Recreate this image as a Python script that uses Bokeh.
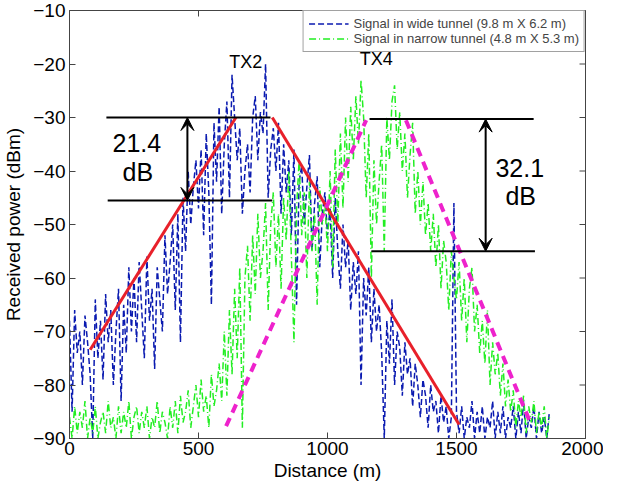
import math
from bokeh.plotting import figure
from bokeh.models import (ColumnDataSource, Range1d, Arrow, VeeHead,
                          Legend, LegendItem, FixedTicker)
from bokeh.embed import file_html
from bokeh.resources import INLINE
from bokeh.core.properties import value

# ---------------- data ----------------
distance_m = list(range(0, 1870, 10))

wide_dbm = [
    -68, -85, -66, -74, -70, -80, -67, -72, -78, -90,
    -64, -75, -68, -79, -63, -72, -66, -80, -70, -62,
    -83, -65, -74, -58, -70, -60, -72, -57, -66, -75,
    -56, -68, -62, -77, -58, -64, -70, -52, -63, -57,
    -50, -66, -48, -72, -45, -55, -40, -50, -43, -38,
    -47, -36, -52, -33, -44, -65, -31, -42, -28, -48,
    -35, -27, -45, -22, -30, -38, -32, -48, -40, -35,
    -44, -30, -26, -38, -29, -33, -20, -45, -36, -32,
    -40, -31, -48, -35, -44, -38, -52, -36, -65, -42,
    -39, -50, -43, -37, -55, -46, -41, -58, -48, -44,
    -52, -47, -60, -45, -55, -62, -50, -58, -53, -66,
    -57, -63, -55, -80, -60, -67, -58, -72, -62, -70,
    -65, -74, -90, -68, -76, -64, -80, -70, -73, -82,
    -72, -78, -75, -84, -76, -80, -86, -79, -82, -88,
    -80, -85, -83, -89, -82, -87, -84, -90, -86, -46,
    -85, -89, -84, -90, -86, -88, -83, -90, -85, -89,
    -84, -90, -86, -88, -83, -90, -85, -89, -84, -90,
    -86, -88, -84, -90, -85, -89, -83, -90, -86, -88,
    -84, -90, -85, -89, -86, -90, -85,
]

narrow_dbm = [
    -86, -90, -84, -89, -85, -88, -83, -90, -86, -89,
    -84, -90, -87, -85, -89, -83, -88, -86, -90, -84,
    -89, -85, -88, -83, -90, -86, -84, -89, -85, -88,
    -84, -90, -86, -88, -83, -89, -85, -87, -90, -84,
    -88, -83, -89, -82, -87, -85, -81, -88, -84, -80,
    -86, -79, -85, -82, -88, -78, -84, -81, -76, -83,
    -70, -82, -66, -78, -62, -75, -58, -88, -60, -54,
    -68, -52, -63, -48, -60, -55, -46, -66, -50, -44,
    -58, -48, -62, -45, -53, -40, -56, -72, -47, -38,
    -52, -44, -60, -42, -55, -48, -65, -43, -50, -46,
    -55, -40, -58, -36, -50, -33, -47, -30, -42, -28,
    -38, -26, -35, -23, -30, -45, -33, -60, -38, -50,
    -42, -35, -55, -30, -38, -27, -24, -36, -29, -40,
    -33, -45, -37, -31, -48, -40, -50, -42, -52, -46,
    -55, -48, -58, -50, -62, -53, -57, -66, -55, -60,
    -64, -57, -68, -60, -72, -62, -58, -70, -65, -74,
    -68, -76, -66, -80, -72, -78, -74, -82, -76, -84,
    -79, -85, -81, -88, -83, -86, -82, -89, -84, -87,
    -83, -89, -85, -88, -84, -90, -86,
]

series_labels = ["Signal in wide tunnel (9.8 m X 6.2 m)",
                 "Signal in narrow tunnel (4.8 m X 5.3 m)"]

# fitted slopes
red_up_x = [80, 645]
red_up_y = [-73.4, -30]
red_down_x = [786, 1510]
red_down_y = [-30, -87.4]
mag_up_x = [607, 1150]
mag_up_y = [-87.7, -30.5]
mag_down_x = [1304, 1790]
mag_down_y = [-30.5, -87.5]

# reference levels and arrows
level_x0 = [143, 148, 1163, 1170]
level_x1 = [779, 786, 1799, 1804]
level_y = [-30, -45.5, -30.3, -55]
arrow_x = [457, 1613]
arrow_top = [-30, -30.3]
arrow_bottom = [-45.5, -55]

big_text = ["21.4", "dB", "32.1", "dB"]
big_text_x = [261, 265, 1745, 1749]
big_text_y = [-34.8, -40.1, -39.4, -44.6]
tx_text = ["TX2", "TX4"]
tx_x = [683, 1189]
tx_y = [-19.7, -19.1]

x_ticks = [0, 500, 1000, 1500, 2000]
y_ticks = [-90, -80, -70, -60, -50, -40, -30, -20, -10]

FONT = "Liberation Sans"
FRAME = "#444444"

# ---------------- figure ----------------
p = figure(width=603, height=483, output_backend="svg", toolbar_location=None,
           x_range=Range1d(x_ticks[0], x_ticks[-1]),
           y_range=Range1d(y_ticks[0], y_ticks[-1]),
           min_border_left=64, min_border_right=18, min_border_top=10,
           min_border_bottom=0)
p.xgrid.visible = False
p.ygrid.visible = False
p.outline_line_color = FRAME
p.background_fill_color = "white"

src = ColumnDataSource(dict(d=distance_m, w=wide_dbm, n=narrow_dbm))
r_wide = p.line("d", "w", source=src, line_color="#0a1ab0", line_width=1.5,
                line_dash="6 3")
r_narrow = p.line("d", "n", source=src, line_color="#22ee22", line_width=1.5,
                  line_dash="7 3 1 3")

p.line(red_up_x, red_up_y, line_color="#e8202a", line_width=3)
p.line(red_down_x, red_down_y, line_color="#e8202a", line_width=3)
p.line(mag_up_x, mag_up_y, line_color="#ee22cc", line_width=4, line_dash="9 6")
p.line(mag_down_x, mag_down_y, line_color="#ee22cc", line_width=4, line_dash="9 6")

p.segment(x0=level_x0, y0=level_y, x1=level_x1, y1=level_y,
          line_color="black", line_width=2)

asrc = ColumnDataSource(dict(x=arrow_x, t=arrow_top, b=arrow_bottom))
p.add_layout(Arrow(x_start="x", y_start="b", x_end="x", y_end="t", source=asrc,
                   line_color="black", line_width=2,
                   start=VeeHead(size=13, fill_color="black", line_color="black"),
                   end=VeeHead(size=13, fill_color="black", line_color="black")))

bsrc = ColumnDataSource(dict(x=big_text_x, y=big_text_y, t=big_text))
p.text("x", "y", text="t", source=bsrc, text_font=value(FONT),
       text_font_size="25px", text_align="center", text_baseline="middle",
       text_color="black")
tsrc = ColumnDataSource(dict(x=tx_x, y=tx_y, t=tx_text))
p.text("x", "y", text="t", source=tsrc, text_font=value(FONT),
       text_font_size="18px", text_align="center", text_baseline="middle",
       text_color="black")

# inward ticks on the right and top frame edges (clipped to the frame)
p.scatter(x=[x_ticks[-1]] * len(y_ticks), y=y_ticks, marker="dash", size=12,
          line_color=FRAME, line_width=1)
p.scatter(x=x_ticks, y=[y_ticks[-1]] * len(x_ticks), marker="dash", size=12,
          angle=math.pi / 2, line_color=FRAME, line_width=1)

# ---------------- axes ----------------
for ax in (p.xaxis[0], p.yaxis[0]):
    ax.major_tick_in = 6
    ax.major_tick_out = 0
    ax.minor_tick_in = 0
    ax.minor_tick_out = 0
    ax.axis_line_color = FRAME
    ax.major_tick_line_color = FRAME
    ax.major_label_text_font = FONT
    ax.major_label_text_font_size = "19px"
    ax.major_label_text_color = "black"
    ax.axis_label_text_font = FONT
    ax.axis_label_text_font_size = "19px"
    ax.axis_label_text_font_style = "normal"
    ax.axis_label_text_color = "black"

p.xaxis[0].ticker = FixedTicker(ticks=x_ticks)
p.yaxis[0].ticker = FixedTicker(ticks=y_ticks)
p.xaxis[0].axis_label = "Distance (m)"
p.yaxis[0].axis_label = "Received power (dBm)"
p.xaxis[0].major_label_standoff = 3
p.xaxis[0].axis_label_standoff = 2
p.yaxis[0].major_label_standoff = 4
p.yaxis[0].axis_label_standoff = 6

legend = Legend(items=[LegendItem(label=series_labels[0], renderers=[r_wide]),
                       LegendItem(label=series_labels[1], renderers=[r_narrow])],
                location="top_right", margin=0, padding=5, spacing=0,
                glyph_width=40, glyph_height=15, label_height=15,
                label_standoff=5, label_text_font=FONT,
                label_text_font_size="13px", border_line_color=FRAME,
                border_line_width=1, background_fill_alpha=1.0)
p.add_layout(legend)

open("out.html", "w").write(file_html(p, INLINE))
